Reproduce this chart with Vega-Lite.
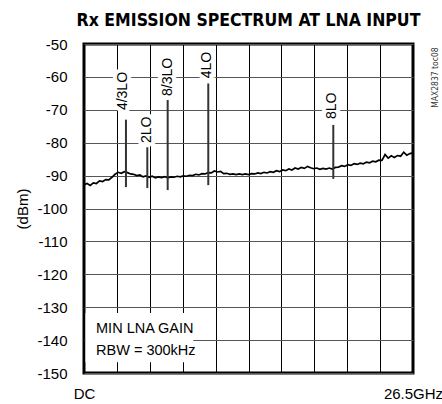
{
  "$schema": "https://vega.github.io/schema/vega-lite/v6.json",
  "width": 329,
  "height": 329,
  "autosize": {"type": "none"},
  "padding": {"left": 84, "top": 44, "right": 29, "bottom": 31},
  "background": "white",
  "title": {
    "text": "Rx EMISSION SPECTRUM AT LNA INPUT",
    "font": "'DejaVu Sans Condensed', 'Liberation Sans'",
    "fontSize": 17.5,
    "fontWeight": "bold",
    "anchor": "middle",
    "frame": "group",
    "baseline": "alphabetic",
    "offset": -6,
    "color": "black"
  },
  "config": {
    "view": {"stroke": "black", "strokeWidth": 3},
    "font": "Liberation Sans",
    "axis": {"labelColor": "black", "titleColor": "black"}
  },
  "datasets": {
    "trace": [
      {"f": 0, "dbm": -92.8}, {"f": 0.25, "dbm": -92.4}, {"f": 0.5, "dbm": -93.0}, {"f": 0.75, "dbm": -92.2},
      {"f": 1.0, "dbm": -92.4}, {"f": 1.25, "dbm": -91.6}, {"f": 1.5, "dbm": -91.8}, {"f": 1.75, "dbm": -91.2},
      {"f": 2.0, "dbm": -91.3}, {"f": 2.25, "dbm": -90.5}, {"f": 2.5, "dbm": -89.6}, {"f": 2.75, "dbm": -89.0},
      {"f": 3.0, "dbm": -89.3}, {"f": 3.25, "dbm": -88.8}, {"f": 3.5, "dbm": -89.1}, {"f": 3.75, "dbm": -89.5},
      {"f": 4.0, "dbm": -89.6}, {"f": 4.25, "dbm": -90.0}, {"f": 4.5, "dbm": -89.8}, {"f": 4.75, "dbm": -90.4},
      {"f": 5.0, "dbm": -90.1}, {"f": 5.25, "dbm": -90.5}, {"f": 5.5, "dbm": -90.2}, {"f": 5.75, "dbm": -90.7},
      {"f": 6.0, "dbm": -90.4}, {"f": 6.25, "dbm": -90.6}, {"f": 6.5, "dbm": -90.3}, {"f": 6.75, "dbm": -90.7},
      {"f": 7.0, "dbm": -90.4}, {"f": 7.25, "dbm": -90.5}, {"f": 7.5, "dbm": -90.2}, {"f": 7.75, "dbm": -90.4},
      {"f": 8.0, "dbm": -90.1}, {"f": 8.25, "dbm": -90.2}, {"f": 8.5, "dbm": -89.9}, {"f": 8.75, "dbm": -90.0},
      {"f": 9.0, "dbm": -89.6}, {"f": 9.25, "dbm": -89.8}, {"f": 9.5, "dbm": -89.4}, {"f": 9.75, "dbm": -89.5},
      {"f": 10.0, "dbm": -89.1}, {"f": 10.25, "dbm": -89.2}, {"f": 10.5, "dbm": -88.6}, {"f": 10.75, "dbm": -88.9},
      {"f": 11.0, "dbm": -88.7}, {"f": 11.25, "dbm": -89.4}, {"f": 11.5, "dbm": -89.3}, {"f": 11.75, "dbm": -89.6},
      {"f": 12.0, "dbm": -89.5}, {"f": 12.25, "dbm": -89.7}, {"f": 12.5, "dbm": -89.5}, {"f": 12.75, "dbm": -89.7},
      {"f": 13.0, "dbm": -89.5}, {"f": 13.25, "dbm": -89.7}, {"f": 13.5, "dbm": -89.4}, {"f": 13.75, "dbm": -89.5},
      {"f": 14.0, "dbm": -89.2}, {"f": 14.25, "dbm": -89.4}, {"f": 14.5, "dbm": -89.0}, {"f": 14.75, "dbm": -89.2},
      {"f": 15.0, "dbm": -88.8}, {"f": 15.25, "dbm": -89.0}, {"f": 15.5, "dbm": -88.5}, {"f": 15.75, "dbm": -88.8},
      {"f": 16.0, "dbm": -88.3}, {"f": 16.25, "dbm": -88.5}, {"f": 16.5, "dbm": -88.0}, {"f": 16.75, "dbm": -88.3},
      {"f": 17.0, "dbm": -87.7}, {"f": 17.25, "dbm": -88.0}, {"f": 17.5, "dbm": -87.5}, {"f": 17.75, "dbm": -87.8},
      {"f": 18.0, "dbm": -87.2}, {"f": 18.25, "dbm": -87.6}, {"f": 18.5, "dbm": -87.9}, {"f": 18.75, "dbm": -87.7},
      {"f": 19.0, "dbm": -88.1}, {"f": 19.25, "dbm": -87.8}, {"f": 19.5, "dbm": -88.0}, {"f": 19.75, "dbm": -87.7},
      {"f": 20.0, "dbm": -88.0}, {"f": 20.25, "dbm": -87.5}, {"f": 20.5, "dbm": -87.4}, {"f": 20.75, "dbm": -87.0},
      {"f": 21.0, "dbm": -87.2}, {"f": 21.25, "dbm": -86.7}, {"f": 21.5, "dbm": -86.9}, {"f": 21.75, "dbm": -86.4},
      {"f": 22.0, "dbm": -86.6}, {"f": 22.25, "dbm": -86.2}, {"f": 22.5, "dbm": -86.4}, {"f": 22.75, "dbm": -85.9},
      {"f": 23.0, "dbm": -86.1}, {"f": 23.25, "dbm": -85.6}, {"f": 23.5, "dbm": -85.8}, {"f": 23.75, "dbm": -85.3},
      {"f": 24.0, "dbm": -85.4}, {"f": 24.25, "dbm": -83.6}, {"f": 24.5, "dbm": -84.7}, {"f": 24.75, "dbm": -84.0},
      {"f": 25.0, "dbm": -84.5}, {"f": 25.25, "dbm": -83.9}, {"f": 25.5, "dbm": -84.1}, {"f": 25.75, "dbm": -82.9},
      {"f": 26.0, "dbm": -83.8}, {"f": 26.25, "dbm": -83.3}, {"f": 26.5, "dbm": -83.1}
    ],
    "spurs": [
      {"f": 3.38, "dbm": -73, "dbm2": -93.5},
      {"f": 5.10, "dbm": -81.4, "dbm2": -93.8},
      {"f": 6.74, "dbm": -67, "dbm2": -94.4},
      {"f": 10.01, "dbm": -62, "dbm2": -92.9},
      {"f": 20.08, "dbm": -74.6, "dbm2": -91.0}
    ],
    "labels": [
      {"name": "4/3LO", "f": 3.17, "dbm": -64.3},
      {"name": "2LO", "f": 5.10, "dbm": -76.1},
      {"name": "8/3LO", "f": 6.74, "dbm": -60.0},
      {"name": "4LO", "f": 9.88, "dbm": -56.4},
      {"name": "8LO", "f": 19.95, "dbm": -68.8}
    ],
    "box": [{"f": 0.12, "f2": 8.8, "dbm": -131.8, "dbm2": -146.7}],
    "notes": [
      {"f": 0.97, "dbm": -136.7, "txt": "MIN LNA GAIN"},
      {"f": 0.97, "dbm": -143.3, "txt": "RBW = 300kHz"}
    ],
    "tag": [{"f": 28.25, "dbm": -60.2, "txt": "MAX2837 toc08"}]
  },
  "encoding": {
    "x": {
      "field": "f", "type": "quantitative",
      "scale": {"domain": [0, 26.5], "nice": false, "zero": false},
      "axis": {
        "values": [0, 2.65, 5.3, 7.95, 10.6, 13.25, 15.9, 18.55, 21.2, 23.85, 26.5],
        "grid": true, "gridColor": "black", "gridWidth": 1, "gridOpacity": 1,
        "ticks": false, "domain": false, "title": null,
        "labelExpr": "datum.value === 0 ? 'DC' : (datum.value > 26 ? '26.5GHz' : '')",
        "labelFontSize": 15, "labelPadding": 13, "labelFont": "Liberation Sans",
        "labelOverlap": false, "labelFlush": false
      }
    },
    "y": {
      "field": "dbm", "type": "quantitative",
      "scale": {"domain": [-150, -50], "nice": false, "zero": false},
      "axis": {
        "values": [-150, -140, -130, -120, -110, -100, -90, -80, -70, -60, -50],
        "grid": true, "gridColor": "#555555", "gridWidth": 1, "gridOpacity": 1,
        "ticks": false, "domain": false, "labelOverlap": false,
        "labelExpr": "datum.value + ''",
        "labelFontSize": 15, "labelPadding": 17, "labelFont": "Liberation Sans",
        "title": "(dBm)", "titleFontSize": 15, "titleFontWeight": "normal",
        "titleFont": "Liberation Sans", "titleX": -62, "titleY": 164.5,
        "titleAlign": "center", "titleBaseline": "middle", "titleAngle": -90
      }
    }
  },
  "layer": [
    {
      "data": {"name": "box"},
      "mark": {"type": "rect", "color": "white", "opacity": 1},
      "encoding": {
        "x2": {"field": "f2"},
        "y2": {"field": "dbm2"}
      }
    },
    {
      "data": {"name": "trace"},
      "mark": {"type": "line", "color": "black", "strokeWidth": 1.7, "interpolate": "linear"},
      "encoding": {}
    },
    {
      "data": {"name": "spurs"},
      "mark": {"type": "rule", "color": "#333333", "strokeWidth": 2},
      "encoding": {
        "y2": {"field": "dbm2"}
      }
    },
    {
      "data": {"name": "labels"},
      "mark": {"type": "text", "angle": 270, "align": "center", "baseline": "middle", "font": "Liberation Sans", "fontSize": 14, "stroke": "white", "strokeWidth": 8, "fill": "white"},
      "encoding": {
        "text": {"field": "name"}
      }
    },
    {
      "data": {"name": "labels"},
      "mark": {"type": "text", "angle": 270, "align": "center", "baseline": "middle", "font": "Liberation Sans", "fontSize": 14, "color": "black"},
      "encoding": {
        "text": {"field": "name"}
      }
    },
    {
      "data": {"name": "notes"},
      "mark": {"type": "text", "align": "left", "baseline": "middle", "font": "Liberation Sans", "fontSize": 14.5, "color": "black"},
      "encoding": {
        "text": {"field": "txt"}
      }
    },
    {
      "data": {"name": "tag"},
      "mark": {"type": "text", "angle": 270, "align": "center", "baseline": "middle", "font": "'DejaVu Sans Condensed', 'Liberation Sans'", "fontSize": 8.5, "color": "#333333", "clip": false},
      "encoding": {
        "text": {"field": "txt"}
      }
    }
  ]
}
